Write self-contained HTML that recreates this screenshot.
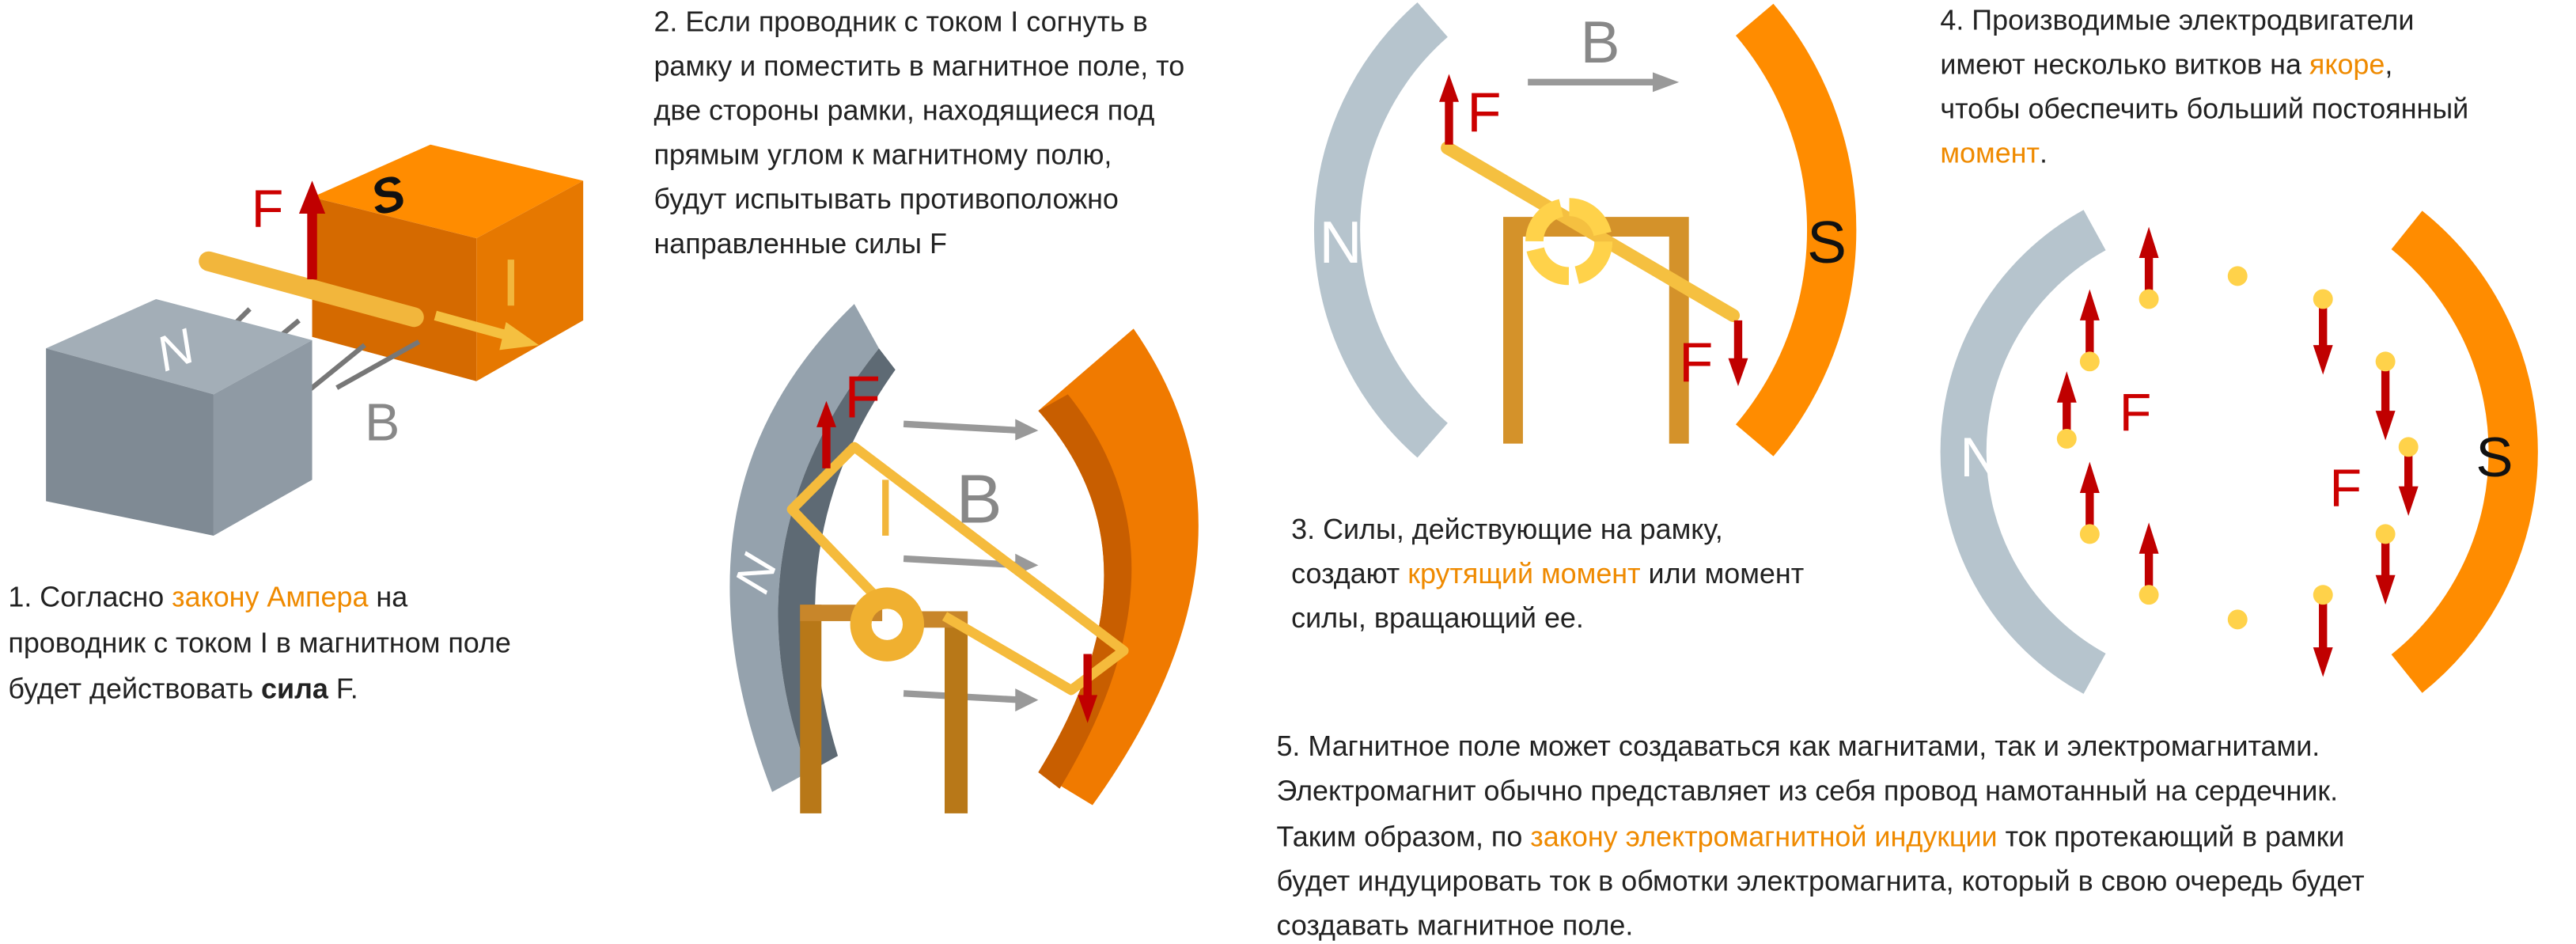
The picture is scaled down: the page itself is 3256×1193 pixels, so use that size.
<!DOCTYPE html>
<html><head><meta charset="utf-8"><style>
html,body{margin:0;padding:0;background:#fff;width:3256px;height:1193px;overflow:hidden}
svg{display:block}
text{font-family:"Liberation Sans","DejaVu Sans",sans-serif}
.t{font-size:17.3px;fill:#222}
.o{fill:#ef8a00}
</style></head><body>
<svg width="3256" height="1193" viewBox="0 0 1568 574.5" preserveAspectRatio="none" xmlns="http://www.w3.org/2000/svg">

<!-- Scene 1 -->
<polygon points="190,120 262,88 355,110 290,145" fill="#ff8c00"/>
<polygon points="190,120 290,145 290,232 190,205" fill="#d56a00"/>
<polygon points="290,145 355,110 355,195 290,232" fill="#e67800"/>
<text x="226" y="128" font-size="30" font-style="italic" font-weight="bold" fill="#111" transform="rotate(-15 240 118)">S</text>
<g stroke="#777" stroke-width="3"><line x1="185" y1="240" x2="222" y2="210"/><line x1="205" y1="236" x2="255" y2="208"/><line x1="140" y1="200" x2="152" y2="188"/><line x1="170" y1="205" x2="182" y2="195"/></g>
<polygon points="28,212 95,182 190,207 130,240" fill="#a3aeb7"/>
<polygon points="28,212 130,240 130,326 28,305" fill="#7f8a94"/>
<polygon points="130,240 190,207 190,292 130,326" fill="#8f9aa4"/>
<text x="95" y="222" font-size="30" font-style="italic" fill="#fff" transform="rotate(-20 110 210)">N</text>
<line x1="127" y1="159" x2="252" y2="193" stroke="#f2b63c" stroke-width="12" stroke-linecap="round"/>
<line x1="265" y1="192" x2="312" y2="205" stroke="#f5c040" stroke-width="6"/>
<polygon points="308,196 328,210 304,213" fill="#f5c040"/>
<line x1="190" y1="170" x2="190" y2="128" stroke="#c00000" stroke-width="6"/>
<polygon points="182,130 190,110 198,130" fill="#c00000"/>
<text x="153" y="138" font-size="32" fill="#cc0000">F</text>
<rect x="309" y="158" width="4" height="28" fill="#f2b63c"/>
<text x="222" y="268" font-size="32" fill="#888">B</text>

<!-- Scene 2 -->
<path d="M520,185 Q400,300 470,482 L492,470 Q440,330 535,212 Z" fill="#95a2ad"/>
<path d="M492,470 Q440,330 535,212 L545,225 Q470,330 510,460 Z" fill="#5e6a74"/>
<text x="450" y="360" font-size="30" font-style="italic" fill="#fff" transform="rotate(-70 460 350)">N</text>
<path d="M690,200 Q780,330 665,490 L632,470 Q712,340 632,250 Z" fill="#f07a00"/>
<path d="M632,250 Q712,340 632,470 L645,480 Q730,340 650,240 Z" fill="#c85e00"/>
<g stroke="#999" stroke-width="4"><line x1="550" y1="258" x2="622" y2="262"/><line x1="550" y1="340" x2="622" y2="344"/><line x1="550" y1="422" x2="622" y2="426"/></g>
<g fill="#999"><polygon points="618,255 632,262 618,268"/><polygon points="618,337 632,344 618,350"/><polygon points="618,419 632,426 618,433"/></g>
<rect x="487" y="368" width="13" height="127" fill="#b87818"/>
<rect x="575" y="372" width="14" height="123" fill="#b87818"/>
<rect x="487" y="368" width="50" height="10" fill="#c8862a"/>
<rect x="555" y="372" width="34" height="10" fill="#c8862a"/>
<polyline points="535,365 482,310 520,272 684,396 652,420 575,375" fill="none" stroke="#f5bb3c" stroke-width="6" stroke-linejoin="round"/>
<circle cx="540" cy="380" r="16" fill="none" stroke="#f0b030" stroke-width="13"/>
<rect x="537" y="292" width="4" height="34" fill="#f2b63c"/>
<text x="582" y="318" font-size="42" fill="#888">B</text>
<line x1="503" y1="285" x2="503" y2="258" stroke="#c00000" stroke-width="5"/>
<polygon points="497,260 503,244 509,260" fill="#c00000"/>
<text x="514" y="254" font-size="36" fill="#cc0000">F</text>
<line x1="662" y1="398" x2="662" y2="425" stroke="#c00000" stroke-width="5"/>
<polygon points="656,423 662,440 668,423" fill="#c00000"/>

<!-- Scene 3 -->
<path d="M872,12 A170,170 0 0 0 872,268" fill="none" stroke="#b6c4cd" stroke-width="28"/>
<path d="M1068,12 A198,198 0 0 1 1068,268" fill="none" stroke="#ff8c00" stroke-width="30"/>
<text x="803" y="160" font-size="36" fill="#fff">N</text>
<text x="1100" y="160" font-size="36" fill="#111">S</text>
<path d="M921,270 V138 H1022 V270" fill="none" stroke="#d4922a" stroke-width="12"/>
<line x1="881" y1="90" x2="1055" y2="192" stroke="#f5c040" stroke-width="8" stroke-linecap="round"/>
<circle cx="955" cy="147" r="21" fill="none" stroke="#ffd24a" stroke-width="11" stroke-dasharray="28 5"/>
<line x1="882" y1="88" x2="882" y2="60" stroke="#c00000" stroke-width="5"/>
<polygon points="876,62 882,45 888,62" fill="#c00000"/>
<text x="893" y="80" font-size="34" fill="#cc0000">F</text>
<line x1="1058" y1="195" x2="1058" y2="220" stroke="#c00000" stroke-width="5"/>
<polygon points="1052,218 1058,235 1064,218" fill="#c00000"/>
<text x="1022" y="232" font-size="34" fill="#cc0000">F</text>
<text x="962" y="38" font-size="36" fill="#888">B</text>
<line x1="930" y1="50" x2="1010" y2="50" stroke="#999" stroke-width="4"/>
<polygon points="1006,44 1022,50 1006,56" fill="#999"/>

<!-- Scene 4 -->
<path d="M1275,140 A154,154 0 0 0 1275,410" fill="none" stroke="#b6c4cd" stroke-width="28"/>
<path d="M1465,140 A173,173 0 0 1 1465,410" fill="none" stroke="#ff8c00" stroke-width="30"/>
<text x="1193" y="290" font-size="34" fill="#fff">N</text>
<text x="1507" y="290" font-size="34" fill="#111">S</text>
<g stroke="#c00000" stroke-width="5">
<line x1="1308" y1="180" x2="1308" y2="155"/><line x1="1272" y1="218" x2="1272" y2="193"/><line x1="1258" y1="265" x2="1258" y2="243"/><line x1="1272" y1="323" x2="1272" y2="298"/><line x1="1308" y1="360" x2="1308" y2="335"/>
<line x1="1414" y1="184" x2="1414" y2="212"/><line x1="1452" y1="222" x2="1452" y2="252"/><line x1="1466" y1="274" x2="1466" y2="298"/><line x1="1452" y1="327" x2="1452" y2="352"/><line x1="1414" y1="364" x2="1414" y2="396"/>
</g>
<g fill="#c00000">
<polygon points="1302,157 1308,138 1314,157"/><polygon points="1266,195 1272,176 1278,195"/><polygon points="1252,245 1258,226 1264,245"/><polygon points="1266,300 1272,281 1278,300"/><polygon points="1302,337 1308,318 1314,337"/>
<polygon points="1408,210 1414,228 1420,210"/><polygon points="1446,250 1452,268 1458,250"/><polygon points="1460,296 1466,314 1472,296"/><polygon points="1446,350 1452,368 1458,350"/><polygon points="1408,394 1414,412 1420,394"/>
</g>
<g fill="#ffd24a">
<circle cx="1308" cy="182" r="6"/><circle cx="1362" cy="168" r="6"/><circle cx="1414" cy="182" r="6"/><circle cx="1272" cy="220" r="6"/><circle cx="1452" cy="220" r="6"/><circle cx="1258" cy="267" r="6"/><circle cx="1466" cy="272" r="6"/><circle cx="1272" cy="325" r="6"/><circle cx="1452" cy="325" r="6"/><circle cx="1308" cy="362" r="6"/><circle cx="1362" cy="377" r="6"/><circle cx="1414" cy="362" r="6"/>
</g>
<text x="1290" y="262" font-size="32" fill="#cc0000">F</text>
<text x="1418" y="308" font-size="32" fill="#cc0000">F</text>

<!-- Texts -->
<text class="t" x="5" y="369">1. Согласно <tspan class="o">закону Ампера</tspan> на</text>
<text class="t" x="5" y="397">проводник с током I в магнитном поле</text>
<text class="t" x="5" y="425">будет действовать <tspan font-weight="bold">сила</tspan> F.</text>

<text class="t" x="398" y="19">2. Если проводник с током I согнуть в</text>
<text class="t" x="398" y="46">рамку и поместить в магнитное поле, то</text>
<text class="t" x="398" y="73">две стороны рамки, находящиеся под</text>
<text class="t" x="398" y="100">прямым углом к магнитному полю,</text>
<text class="t" x="398" y="127">будут испытывать противоположно</text>
<text class="t" x="398" y="154">направленные силы F</text>

<text class="t" x="786" y="328">3. Силы, действующие на рамку,</text>
<text class="t" x="786" y="355">создают <tspan class="o">крутящий момент</tspan> или момент</text>
<text class="t" x="786" y="382">силы, вращающий ее.</text>

<text class="t" x="1181" y="18">4. Производимые электродвигатели</text>
<text class="t" x="1181" y="45">имеют несколько витков на <tspan class="o">якоре</tspan>,</text>
<text class="t" x="1181" y="72">чтобы обеспечить больший постоянный</text>
<text class="t" x="1181" y="99"><tspan class="o">момент</tspan>.</text>

<text class="t" x="777" y="460">5. Магнитное поле может создаваться как магнитами, так и электромагнитами.</text>
<text class="t" x="777" y="487">Электромагнит обычно представляет из себя провод намотанный на сердечник.</text>
<text class="t" x="777" y="515">Таким образом, по <tspan class="o">закону электромагнитной индукции</tspan> ток протекающий в рамки</text>
<text class="t" x="777" y="542">будет индуцировать ток в обмотки электромагнита, который в свою очередь будет</text>
<text class="t" x="777" y="569">создавать магнитное поле.</text>
</svg>
</body></html>
